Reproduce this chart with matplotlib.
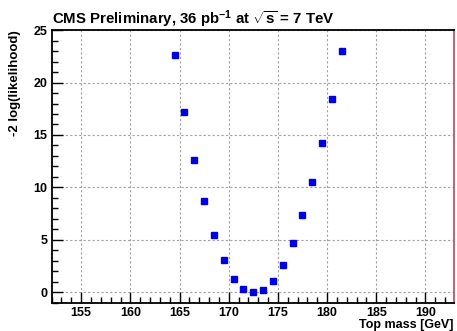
import matplotlib
matplotlib.use('Agg')
import matplotlib.pyplot as plt
from matplotlib.ticker import MultipleLocator

# top mass hypotheses [GeV] and -2 log(likelihood)
mass = [164.5, 165.5, 166.5, 167.5, 168.5, 169.5, 170.5, 171.5, 172.5,
        173.5, 174.5, 175.5, 176.5, 177.5, 178.5, 179.5, 180.5, 181.5]
nll = [22.6, 17.2, 12.6, 8.7, 5.5, 3.1, 1.3, 0.3, 0.0,
       0.2, 1.1, 2.6, 4.7, 7.35, 10.55, 14.2, 18.4, 23.0]

plt.rcParams['font.family'] = ['Liberation Sans', 'DejaVu Sans']
plt.rcParams['mathtext.fontset'] = 'custom'
plt.rcParams['mathtext.rm'] = 'Liberation Sans:bold'
plt.rcParams['mathtext.it'] = 'Liberation Sans:bold'
plt.rcParams['mathtext.bf'] = 'Liberation Sans:bold'

fig = plt.figure(figsize=(4.57, 3.31), dpi=100)
ax = fig.add_axes([0.113, 0.0855, 0.8804, 0.8235])

ax.plot(mass, nll, linestyle='none', marker='s', markersize=4.3,
        color='#0000e0', markeredgecolor='#0000e0')

ax.set_xlim(152, 192.9)
ax.set_ylim(-1, 25)
ax.xaxis.set_major_locator(MultipleLocator(5))
ax.xaxis.set_minor_locator(MultipleLocator(1))
ax.yaxis.set_major_locator(MultipleLocator(5))
ax.yaxis.set_minor_locator(MultipleLocator(1))
ax.grid(True, which='major', linestyle=(0, (2, 2)), color='#a0a0a0', linewidth=0.8)

ax.tick_params(which='both', direction='in', top=False, right=False,
               labelsize=9, width=1, pad=3)
ax.tick_params(which='major', length=8)
ax.tick_params(which='minor', length=4)
for lab in ax.get_xticklabels() + ax.get_yticklabels():
    lab.set_fontweight('bold')

for s in ['left', 'bottom', 'top']:
    ax.spines[s].set_linewidth(1.3)
ax.spines['right'].set_color('#c06878')
ax.spines['right'].set_linewidth(1.5)

ax.set_xlabel('Top mass [GeV]', fontsize=9, fontweight='bold', loc='right', labelpad=0)
ax.set_ylabel('-2 log(likelihood)', fontsize=9.5, fontweight='bold', loc='top', labelpad=9)
ax.set_title(r'CMS Preliminary, 36 pb$^{\mathbf{-1}}$ at $\sqrt{s}$ = 7 TeV',
             fontsize=10.8, fontweight='bold', loc='left', pad=4)

fig.savefig('out.png', dpi=100)
